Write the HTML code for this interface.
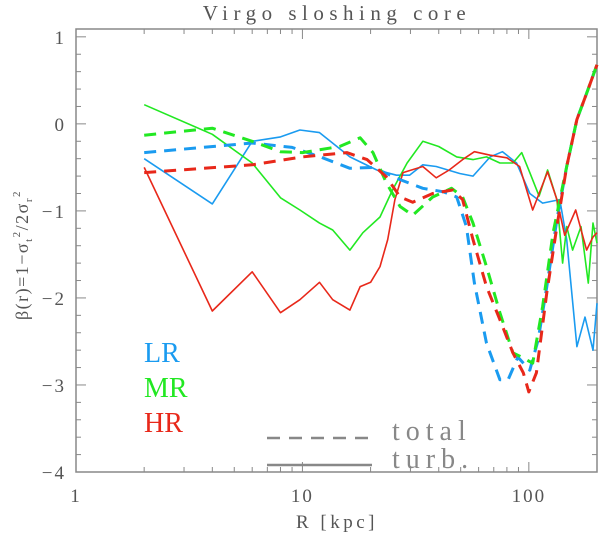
<!DOCTYPE html>
<html><head><meta charset="utf-8"><style>
body{margin:0;background:#fff}
svg{display:block}
text{font-family:"Liberation Serif",serif;fill:#555}
</style></head><body>
<svg id="chart" width="600" height="534" viewBox="0 0 600 534" xmlns="http://www.w3.org/2000/svg">
<text x="337" y="20" text-anchor="middle" font-size="21" letter-spacing="5.5">Virgo sloshing core</text>
<g id="axes"></g>
<g id="series"></g>
<text x="337" y="528" text-anchor="middle" font-size="19" letter-spacing="3.5">R [kpc]</text>
<text transform="translate(28,255) rotate(-90)" text-anchor="middle" font-size="18" letter-spacing="1.5">β(r)=1−σ<tspan font-size="11" dy="4">t</tspan><tspan font-size="11" dy="-12">2</tspan><tspan dy="8">/2σ</tspan><tspan font-size="11" dy="4">r</tspan><tspan font-size="11" dy="-12">2</tspan></text>
<text x="144" y="362" font-size="28" style="fill:#1a9bf0">LR</text>
<text x="144" y="397" font-size="28" style="fill:#22e822">MR</text>
<text x="144" y="432" font-size="28" style="fill:#e8281a">HR</text>
<line x1="267" y1="438" x2="372" y2="438" stroke="#888" stroke-width="2.5" stroke-dasharray="13,9"/>
<line x1="267" y1="465" x2="372" y2="465" stroke="#888" stroke-width="2.5"/>
<text x="392" y="440" font-size="28" letter-spacing="6" style="fill:#888">total</text>
<text x="392" y="468" font-size="28" letter-spacing="6" style="fill:#888">turb.</text>
</svg>
<script>
const xTickValues=[1,10,100];
const xTickLabels=["1","10","100"];
const yTickValues=[-4,-3,-2,-1,0,1];
const yTickLabels=["−4","−3","−2","−1","0","1"];
const lrTurbR=[2,4,6,8,9.75,11.9,16.2,21.3,26,29.7,34,39,49.5,56.7,67.5,76.5,88.3,101,115,137,147,163,177,192,200];
const lrTurbB=[-0.4,-0.92,-0.2,-0.15,-0.07,-0.1,-0.38,-0.53,-0.59,-0.59,-0.47,-0.49,-0.57,-0.6,-0.38,-0.32,-0.45,-0.8,-0.91,-0.87,-1.33,-2.56,-2.22,-2.6,-2.06];
const mrTurbR=[2,4,6,8,9.75,11.9,13.6,16.2,18.5,22,25,29,34,40,48,56.7,65,74.5,85,93,101,111,121,133,141,147,156,170,183,192,200];
const mrTurbB=[0.22,-0.12,-0.45,-0.85,-0.99,-1.14,-1.22,-1.45,-1.25,-1.07,-0.76,-0.45,-0.2,-0.26,-0.38,-0.41,-0.38,-0.45,-0.45,-0.33,-0.56,-0.83,-0.53,-0.87,-1.6,-1.18,-1.45,-1.18,-1.83,-1.14,-1.37];
const hrTurbR=[2,4,6,8,9.75,11.9,13.6,16.2,18,20,22,23.8,25.6,27.8,34,39,44.5,51,57.5,67.5,80,91,104,121,133,144,161,180,192,200];
const hrTurbB=[-0.5,-2.15,-1.7,-2.17,-2.02,-1.82,-2.02,-2.14,-1.87,-1.82,-1.64,-1.33,-0.87,-0.56,-0.49,-0.62,-0.53,-0.41,-0.32,-0.36,-0.39,-0.49,-0.99,-0.55,-0.87,-1.28,-0.99,-1.45,-1.3,-1.25];
const lrTotR=[2,6,9,12,16.2,20.5,27,34,42,48,53,57.5,65,74.5,81,89.5,101,110,120,133,147,163,180,200];
const lrTotB=[-0.33,-0.22,-0.27,-0.38,-0.51,-0.5,-0.64,-0.74,-0.78,-0.84,-1.18,-1.83,-2.52,-2.94,-2.94,-2.68,-2.83,-2.48,-1.87,-1.1,-0.49,0.05,0.35,0.68];
const mrTotR=[2,4,6,8,10,14.6,18,20.5,23.5,27,30.7,37.6,45.6,51,56.7,65,74.5,85,93,104,115,128,147,163,180,200];
const mrTotB=[-0.13,-0.05,-0.2,-0.32,-0.33,-0.26,-0.16,-0.33,-0.68,-0.95,-1.05,-0.84,-0.74,-0.84,-1.14,-1.64,-2.17,-2.63,-2.68,-2.75,-2.1,-1.25,-0.49,0.05,0.35,0.68];
const hrTotR=[2,6,10,15.7,19.3,23.5,27,30.7,37.6,46,51,56.7,65,74.5,85,94.5,100,108,120,133,147,163,180,200];
const hrTotB=[-0.56,-0.47,-0.38,-0.33,-0.41,-0.61,-0.84,-0.9,-0.8,-0.76,-0.87,-1.33,-1.87,-2.25,-2.63,-2.86,-3.08,-2.86,-1.94,-1.18,-0.49,0.05,0.35,0.68];

const L=76,R=597,T=29,B=472;
const xMin=1,xMax=200,yMin=-4,yMax=1.09;
const xs=v=>L+(Math.log10(v)-Math.log10(xMin))/(Math.log10(xMax)-Math.log10(xMin))*(R-L);
const ys=v=>B-(v-yMin)/(yMax-yMin)*(B-T);
const NS="http://www.w3.org/2000/svg";
const axes=document.getElementById('axes');
const ser=document.getElementById('series');
function mk(tag,parent){const e=document.createElementNS(NS,tag);parent.appendChild(e);return e;}
const frame=mk('rect',axes);


frame.setAttribute('x',L);frame.setAttribute('y',T);frame.setAttribute('width',R-L);frame.setAttribute('height',B-T);
frame.setAttribute('fill','none');frame.setAttribute('stroke','#888');frame.setAttribute('stroke-width','1.5');
function tick(x1,y1,x2,y2){const t=mk('line',axes);


t.setAttribute('x1',x1);t.setAttribute('y1',y1);t.setAttribute('x2',x2);t.setAttribute('y2',y2);t.setAttribute('stroke','#888');t.setAttribute('stroke-width','1');}
for(let d=1;d<=100;d*=10){for(let k=1;k<10;k++){const v=d*k;if(v>xMax)break;const x=xs(v);const len=k==1?10:5;tick(x,B,x,B-len);tick(x,T,x,T+len);}}
for(let i=0;i<=25;i++){const v=-4+i*0.2;const y=ys(v);const len=(i%5==0)?10:5;tick(L,y,L+len,y);tick(R,y,R-len,y);}
xTickValues.forEach((v,i)=>{const t=mk('text',axes);


t.setAttribute('x',xs(v));t.setAttribute('y',B+30);t.setAttribute('text-anchor','middle');t.setAttribute('font-size','19');t.setAttribute('letter-spacing','2');t.textContent=xTickLabels[i];});
yTickValues.forEach((v,i)=>{const t=mk('text',axes);


t.setAttribute('x',L-10);t.setAttribute('y',ys(v)+7);t.setAttribute('text-anchor','end');t.setAttribute('font-size','19');t.setAttribute('letter-spacing','2');t.textContent=yTickLabels[i];});
function line(rs,bs,color,dashed,name){const p=mk('polyline',ser);


p.setAttribute('points',rs.map((r,i)=>xs(r).toFixed(1)+','+ys(bs[i]).toFixed(1)).join(' '));
p.setAttribute('fill','none');p.setAttribute('stroke',color);p.setAttribute('stroke-linejoin','round');
p.setAttribute('stroke-width',dashed?'3':'1.6');if(dashed)p.setAttribute('stroke-dasharray','12,8');}
const cB='#1a9bf0',cG='#22e822',cR='#e8281a';
line(lrTurbR,lrTurbB,cB,false,'lr-turb-line');
line(mrTurbR,mrTurbB,cG,false,'mr-turb-line');
line(hrTurbR,hrTurbB,cR,false,'hr-turb-line');
line(lrTotR,lrTotB,cB,true,'lr-total-line');
line(mrTotR,mrTotB,cG,true,'mr-total-line');
line(hrTotR,hrTotB,cR,true,'hr-total-line');
</script>
</body></html>
